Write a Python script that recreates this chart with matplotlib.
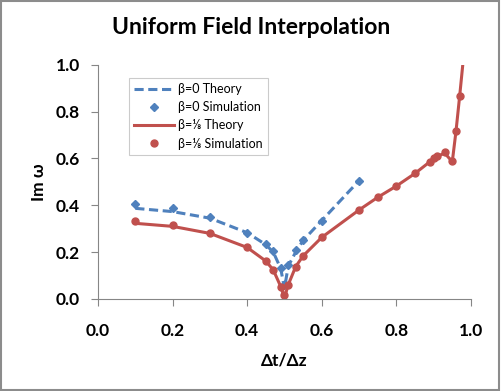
import matplotlib
matplotlib.use("Agg")
import matplotlib.pyplot as plt
from matplotlib.patches import Rectangle

plt.rcParams['font.family'] = ['Lato', 'DejaVu Sans']

# beta = 0
b0_theory_x = [0.1, 0.2, 0.3, 0.4, 0.45, 0.47, 0.49, 0.5, 0.51, 0.53, 0.55, 0.6, 0.7]
b0_theory_y = [0.387, 0.373, 0.345, 0.283, 0.232, 0.200, 0.130, 0.045, 0.140, 0.200, 0.250, 0.335, 0.505]
b0_sim_x = [0.1, 0.2, 0.3, 0.4, 0.45, 0.47, 0.49, 0.5, 0.51, 0.53, 0.55, 0.6, 0.7]
b0_sim_y = [0.404, 0.390, 0.349, 0.283, 0.233, 0.206, 0.131, 0.060, 0.145, 0.209, 0.252, 0.333, 0.505]

# beta = 1/8
b8_theory_x = [0.1, 0.2, 0.3, 0.4, 0.45, 0.47, 0.49, 0.5, 0.51, 0.53, 0.55, 0.6, 0.7,
               0.75, 0.8, 0.85, 0.89, 0.9, 0.91, 0.93, 0.95, 0.96, 0.97, 0.98]
b8_theory_y = [0.323, 0.310, 0.280, 0.220, 0.162, 0.124, 0.053, 0.005, 0.060, 0.138, 0.184, 0.263, 0.380,
               0.434, 0.482, 0.536, 0.586, 0.600, 0.610, 0.622, 0.586, 0.717, 0.870, 1.030]
b8_sim_x = [0.1, 0.2, 0.3, 0.4, 0.45, 0.47, 0.49, 0.5, 0.51, 0.53, 0.55, 0.6, 0.7,
            0.75, 0.8, 0.85, 0.89, 0.9, 0.91, 0.93, 0.95, 0.96, 0.97]
b8_sim_y = [0.334, 0.316, 0.283, 0.222, 0.162, 0.124, 0.053, 0.015, 0.060, 0.138, 0.184, 0.263, 0.380,
            0.434, 0.482, 0.536, 0.586, 0.600, 0.610, 0.629, 0.589, 0.717, 0.868]

blue = '#4F81BD'
red = '#C0504D'
gray = '#868686'

fig = plt.figure(figsize=(5.01, 3.91), dpi=100)
ax = fig.add_axes([0.1956, 0.2353, 0.7444, 0.5992])

ax.plot(b0_theory_x, b0_theory_y, color=blue, lw=2.2, ls=(0, (3, 1.5)), label='β=0 Theory')
ax.plot(b0_sim_x, b0_sim_y, 'D', color=blue, ms=4.5, ls='none', label='β=0 Simulation')
ax.plot(b8_theory_x, b8_theory_y, color=red, lw=2.2, label='β=⅛ Theory')
ax.plot(b8_sim_x, b8_sim_y, 'o', color=red, ms=5, ls='none', label='β=⅛ Simulation')

ax.set_xlim(0, 1)
ax.set_ylim(0, 1)
ax.set_xticks([0, 0.2, 0.4, 0.6, 0.8, 1.0])
ax.set_yticks([0, 0.2, 0.4, 0.6, 0.8, 1.0])
ax.set_xticklabels(['0.0', '0.2', '0.4', '0.6', '0.8', '1.0'], fontweight='bold', fontsize=12.5)
ax.set_yticklabels(['0.0', '0.2', '0.4', '0.6', '0.8', '1.0'], fontweight='bold', fontsize=12.5)
ax.tick_params(direction='out', length=5, color=gray, width=0.8, pad=12)
ax.tick_params(axis='y', pad=8)
for s in ['top', 'right']:
    ax.spines[s].set_visible(False)
for s in ['left', 'bottom']:
    ax.spines[s].set_color(gray)
    ax.spines[s].set_linewidth(0.8)

ax.set_xlabel('Δt/Δz', fontweight='bold', fontsize=12.5, labelpad=10)
ax.set_ylabel('Im ω', fontweight='bold', fontsize=12.5, labelpad=6)
fig.text(0.501, 0.93, 'Uniform Field Interpolation', ha='center', va='center',
         fontweight='bold', fontsize=16.5)

leg = ax.legend(loc='upper left', bbox_to_anchor=(0.067, 0.97), fontsize=9,
                frameon=True, fancybox=False, handlelength=3.2, borderpad=0.4,
                labelspacing=0.5, handletextpad=0.3)
leg.get_frame().set_edgecolor('#BFBFBF')
leg.get_frame().set_linewidth(0.8)

fig.patches.append(Rectangle((0.002, 0.003), 0.995, 0.994, transform=fig.transFigure,
                             fill=False, edgecolor='#8C8C8C', lw=1.5))

fig.savefig('out.png', dpi=100)
